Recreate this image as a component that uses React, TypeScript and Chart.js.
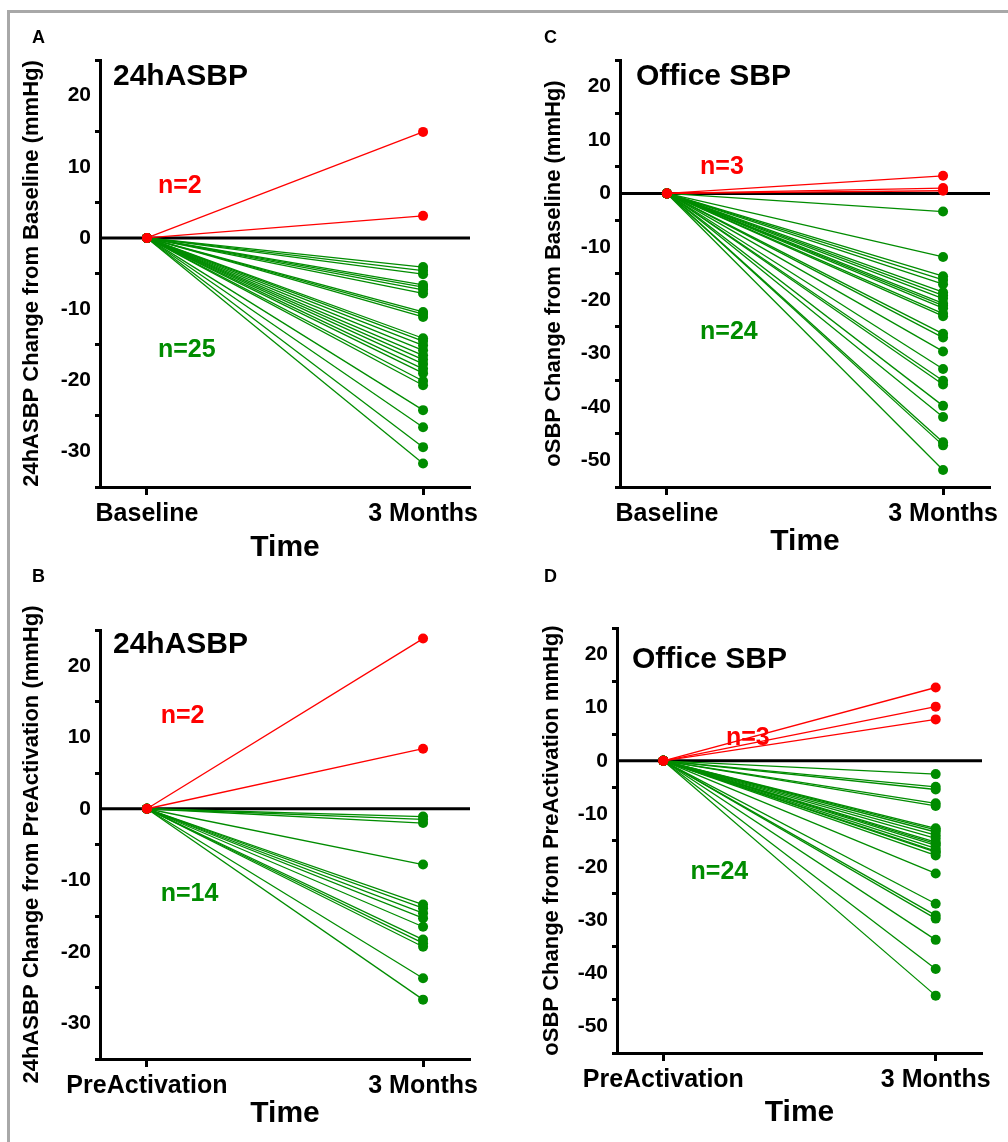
import React, { useEffect, useRef } from 'react';
import { Chart, registerables } from 'chart.js';

Chart.register(...registerables);

// ---------------- DATA ----------------
const timeLabelsBaseline = ['Baseline', '3 Months'];
const timeLabelsPre = ['PreActivation', '3 Months'];
const xTickValues = [0, 1];

// Panel A: 24hASBP change from Baseline
const aRed = [14.9, 3.1];
const aGreen = [-4.1, -4.6, -5.1, -6.6, -6.9, -7.3, -7.8, -10.4, -10.7, -11.1, -14.1, -14.5, -15.1, -15.8, -16.5, -17.1, -17.7, -18.4, -19.0, -20.1, -20.7, -24.2, -26.6, -29.4, -31.7];

// Panel B: 24hASBP change from PreActivation
const bRed = [23.8, 8.4];
const bGreen = [-1.1, -1.5, -2.0, -7.8, -13.4, -13.9, -14.6, -15.3, -16.5, -18.3, -18.8, -19.3, -23.7, -26.7];

// Panel C: Office SBP change from Baseline
const cRed = [3.3, 1.0, 0.5];
const cGreen = [-3.4, -11.9, -15.5, -16.2, -17.0, -18.5, -19.1, -19.7, -20.6, -21.0, -21.5, -22.5, -23.0, -26.3, -27.0, -29.6, -32.9, -35.1, -35.8, -39.8, -41.9, -46.6, -47.2, -51.8];

// Panel D: Office SBP change from PreActivation
const dRed = [13.8, 10.2, 7.8];
const dGreen = [-2.5, -4.9, -5.4, -8.0, -8.5, -12.7, -13.0, -13.4, -14.0, -14.6, -15.3, -15.6, -15.9, -16.5, -17.0, -17.2, -17.8, -21.2, -26.9, -29.1, -29.7, -33.7, -39.2, -44.2];

const yRangeASBP = [-35, 25];
const yRangeSBP = [-55, 25];

// ---------------- STYLE / LAYOUT ----------------
const FONT = "'Liberation Sans', Arial, Helvetica, sans-serif";
const RED = '#ff0000';
const GREEN = '#008c00';

type Panel = {
  key: string;
  left: number; top: number; w: number; h: number;
  yWidth: number; xHeight: number; padTop: number; padRight: number;
  yRange: number[];
  xLabels: string[];
  yTitle: string;
  title: string; titleDx: number; titleDy: number;
  red: number[]; green: number[];
  nRed: { x: number; y: number; text: string };
  nGreen: { x: number; y: number; text: string };
  tickFont: number;
};

const panels: Panel[] = [
  {
    key: 'A', left: 14, top: 40, w: 490, h: 530, yWidth: 86, xHeight: 83, padTop: 20, padRight: 34,
    yRange: yRangeASBP, xLabels: timeLabelsBaseline,
    yTitle: '24hASBP Change from Baseline (mmHg)',
    title: '24hASBP', titleDx: 13, titleDy: 17,
    red: aRed, green: aGreen,
    nRed: { x: 0.04, y: 7.3, text: 'n=2' }, nGreen: { x: 0.04, y: -15.8, text: 'n=25' },
    tickFont: 21,
  },
  {
    key: 'B', left: 14, top: 592, w: 490, h: 544, yWidth: 86, xHeight: 77, padTop: 38, padRight: 34,
    yRange: yRangeASBP, xLabels: timeLabelsPre,
    yTitle: '24hASBP Change from PreActivation (mmHg)',
    title: '24hASBP', titleDx: 13, titleDy: 15,
    red: bRed, green: bGreen,
    nRed: { x: 0.05, y: 13.0, text: 'n=2' }, nGreen: { x: 0.05, y: -12.0, text: 'n=14' },
    tickFont: 21,
  },
  {
    key: 'C', left: 536, top: 40, w: 472, h: 524, yWidth: 84, xHeight: 77, padTop: 20, padRight: 18,
    yRange: yRangeSBP, xLabels: timeLabelsBaseline,
    yTitle: 'oSBP Change from Baseline (mmHg)',
    title: 'Office SBP', titleDx: 16, titleDy: 17,
    red: cRed, green: cGreen,
    nRed: { x: 0.12, y: 4.9, text: 'n=3' }, nGreen: { x: 0.12, y: -26, text: 'n=24' },
    tickFont: 21,
  },
  {
    key: 'D', left: 534, top: 600, w: 474, h: 535, yWidth: 83, xHeight: 82, padTop: 28, padRight: 26,
    yRange: yRangeSBP, xLabels: timeLabelsPre,
    yTitle: 'oSBP Change from PreActivation mmHg)',
    title: 'Office SBP', titleDx: 15, titleDy: 32,
    red: dRed, green: dGreen,
    nRed: { x: 0.23, y: 4.3, text: 'n=3' }, nGreen: { x: 0.1, y: -20.9, text: 'n=24' },
    tickFont: 21,
  },
];

const panelTextPlugin = {
  id: 'panelText',
  beforeDatasetsDraw(chart: any) {
    const { ctx, chartArea, scales } = chart;
    const y0 = scales.y.getPixelForValue(0);
    ctx.save();
    ctx.strokeStyle = '#000';
    ctx.lineWidth = 3;
    ctx.beginPath();
    ctx.moveTo(chartArea.left, y0);
    ctx.lineTo(chartArea.right, y0);
    ctx.stroke();
    ctx.restore();
  },
  afterDatasetsDraw(chart: any, _args: any, opts: any) {
    const { ctx, chartArea, scales } = chart;
    ctx.save();
    ctx.textAlign = 'left';
    ctx.textBaseline = 'middle';
    ctx.fillStyle = '#000';
    ctx.font = `bold 30px ${FONT}`;
    ctx.fillText(opts.title, chartArea.left + opts.titleDx, chartArea.top + opts.titleDy);
    ctx.font = `bold 25px ${FONT}`;
    ctx.fillStyle = RED;
    ctx.fillText(opts.nRed.text, scales.x.getPixelForValue(opts.nRed.x), scales.y.getPixelForValue(opts.nRed.y));
    ctx.fillStyle = GREEN;
    ctx.fillText(opts.nGreen.text, scales.x.getPixelForValue(opts.nGreen.x), scales.y.getPixelForValue(opts.nGreen.y));
    ctx.restore();
  },
};

function makeDatasets(values: number[], color: string) {
  return values.map((v) => ({
    data: [{ x: 0, y: 0 }, { x: 1, y: v }],
    borderColor: color,
    backgroundColor: color,
    pointBackgroundColor: color,
    pointBorderColor: color,
    pointRadius: 5,
    pointBorderWidth: 0,
    borderWidth: 1.3,
    showLine: true,
  }));
}

function PanelChart({ p }: { p: Panel }) {
  const ref = useRef<HTMLCanvasElement>(null);
  useEffect(() => {
    const [yMin, yMax] = p.yRange;
    const chart = new Chart(ref.current as HTMLCanvasElement, {
      type: 'line',
      data: {
        datasets: [...makeDatasets(p.red, RED), ...makeDatasets(p.green, GREEN)] as any,
      },
      plugins: [panelTextPlugin as any],
      options: {
        animation: false,
        responsive: false,
        maintainAspectRatio: false,
        layout: { padding: { left: 0, top: p.padTop, right: p.padRight, bottom: 0 } },
        plugins: {
          legend: { display: false },
          tooltip: { enabled: false },
          panelText: {
            title: p.title, titleDx: p.titleDx, titleDy: p.titleDy, nRed: p.nRed, nGreen: p.nGreen,
          },
        } as any,
        scales: {
          x: {
            type: 'linear',
            min: -0.17,
            max: 1.17,
            afterBuildTicks: (s: any) => {
              s.ticks = xTickValues.map((v) => ({ value: v }));
            },
            afterFit: (s: any) => {
              s.height = p.xHeight;
            },
            ticks: {
              autoSkip: false,
              maxRotation: 0,
              padding: 4,
              color: '#000',
              font: { family: FONT, size: 25, weight: 'bold' },
              callback: (v: any) => p.xLabels[xTickValues.indexOf(Number(v))] ?? '',
            },
            grid: { drawOnChartArea: false, tickLength: 8, tickWidth: 3, tickColor: '#000' },
            border: { display: true, color: '#000', width: 3 },
            title: {
              display: true, text: 'Time', color: '#000',
              font: { family: FONT, size: 30, weight: 'bold' },
              padding: { top: 0, bottom: 4 },
            },
          },
          y: {
            type: 'linear',
            min: yMin,
            max: yMax,
            afterBuildTicks: (s: any) => {
              const t: any[] = [];
              for (let v = yMin; v <= yMax; v += 5) t.push({ value: v });
              s.ticks = t;
            },
            afterFit: (s: any) => {
              s.width = p.yWidth;
            },
            ticks: {
              autoSkip: false,
              padding: 4,
              color: '#000',
              font: { family: FONT, size: p.tickFont, weight: 'bold' },
              callback: (v: any) => (Number(v) % 10 === 0 ? String(v) : ''),
            },
            grid: {
              drawOnChartArea: false,
              tickLength: 5,
              tickWidth: 3,
              tickColor: (c: any) => (c.tick && Math.abs(c.tick.value % 10) === 5 ? '#000' : 'rgba(0,0,0,0)'),
            },
            border: { display: true, color: '#000', width: 3 },
            title: {
              display: true, text: p.yTitle, color: '#000',
              font: { family: FONT, size: 22, weight: 'bold' },
              padding: { top: 5, bottom: 0 },
            },
          },
        },
      } as any,
    });
    return () => chart.destroy();
  }, []);
  return (
    <canvas
      ref={ref}
      width={p.w}
      height={p.h}
      style={{ position: 'absolute', left: p.left, top: p.top, width: p.w, height: p.h }}
    />
  );
}

const letters = [
  { t: 'A', x: 32, y: 28 },
  { t: 'B', x: 32, y: 567 },
  { t: 'C', x: 544, y: 28 },
  { t: 'D', x: 544, y: 567 },
];

export default function App() {
  return (
    <div style={{ position: 'absolute', left: 0, top: 0, width: 1008, height: 1142, background: '#fff', overflow: 'hidden' }}>
      <div
        style={{
          position: 'absolute', left: 7, top: 10, width: 1001, height: 1132,
          borderTop: '3px solid #a8a8a8', borderLeft: '3px solid #a8a8a8', boxSizing: 'border-box',
        }}
      />
      {panels.map((p) => (
        <PanelChart key={p.key} p={p} />
      ))}
      {letters.map((l) => (
        <div
          key={l.t}
          style={{
            position: 'absolute', left: l.x, top: l.y, fontFamily: FONT, fontWeight: 'bold',
            fontSize: 18, lineHeight: '18px', color: '#000',
          }}
        >
          {l.t}
        </div>
      ))}
    </div>
  );
}
